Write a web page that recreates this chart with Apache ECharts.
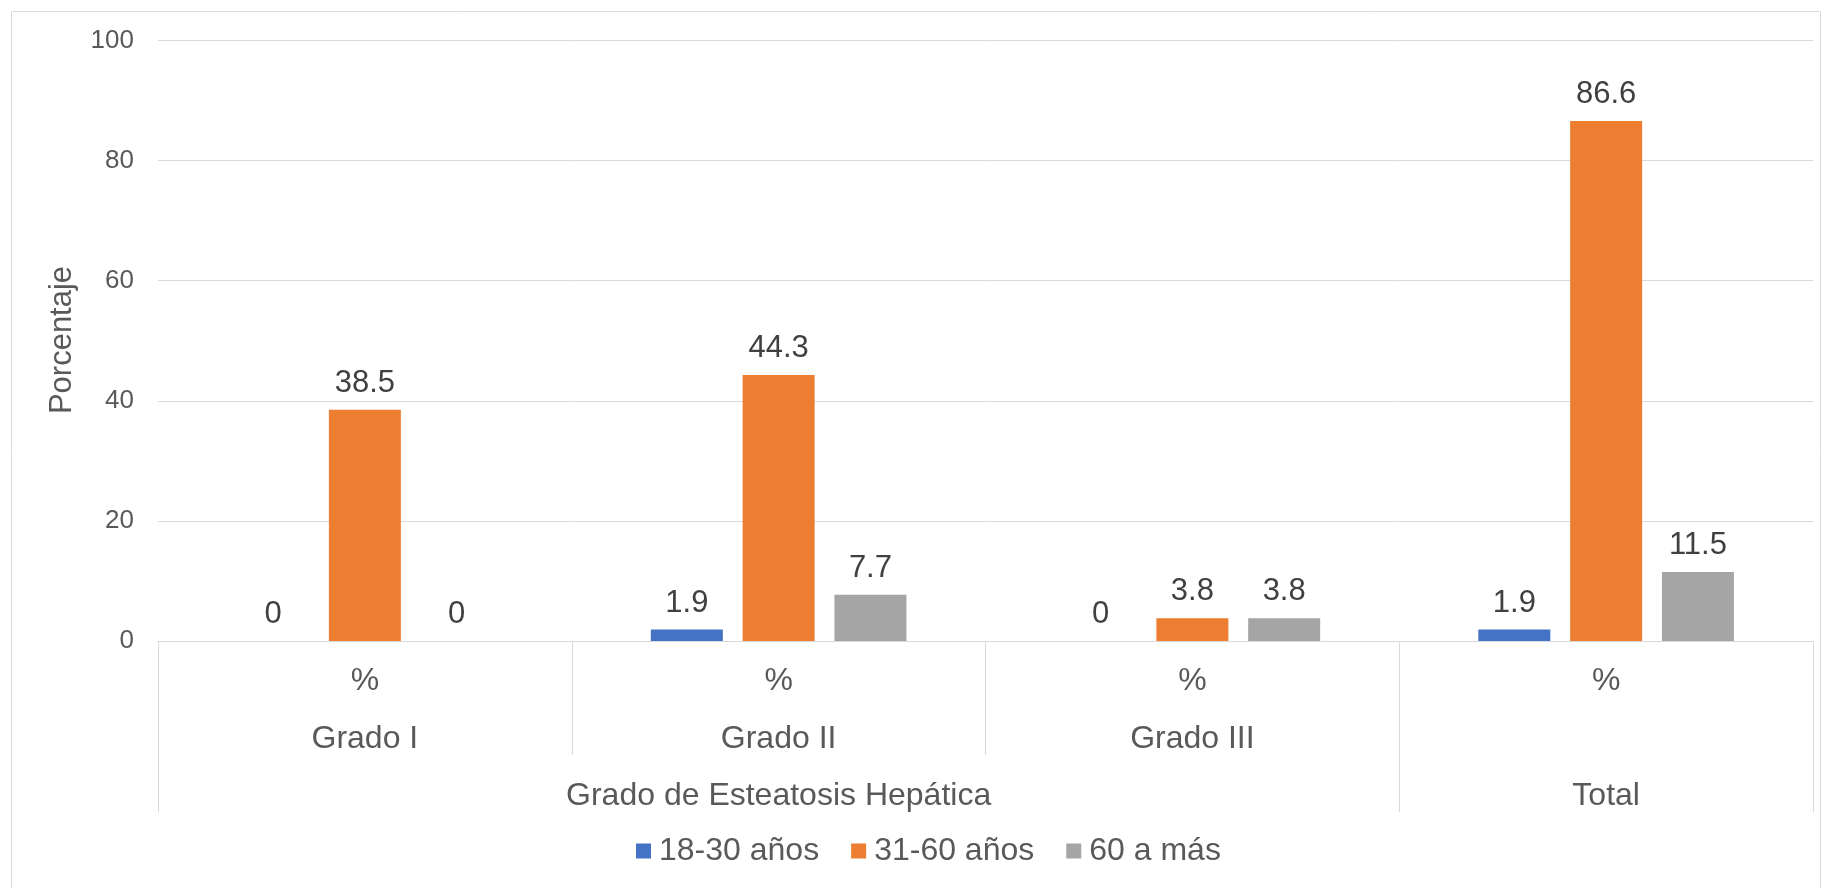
<!DOCTYPE html>
<html>
<head>
<meta charset="utf-8">
<script src="https://cdn.jsdelivr.net/npm/echarts@6/dist/echarts.min.js"></script>
<style>
html,body{margin:0;padding:0;background:#fff;}
#chart{width:1822px;height:888px;}
</style>
</head>
<body>
<div id="chart"></div>
<script>
// ---- data ----
const categories = ['%', '%', '%', '%'];
const level2Labels = ['Grado I', 'Grado II', 'Grado III', ''];
const level3Labels = ['', 'Grado de Esteatosis Hepática', '', 'Total'];
const seriesNames = ['18-30 años', '31-60 años', '60 a más'];
const s18_30 = [0, 1.9, 0, 1.9];
const s31_60 = [38.5, 44.3, 3.8, 86.6];
const s60mas = [0, 7.7, 3.8, 11.5];
const yTicks = [0, 20, 40, 60, 80, 100];
const yTitle = 'Porcentaje';

const FONT = '"Liberation Sans", Arial, sans-serif';
const colors = ['#4472C4', '#ED7D31', '#A5A5A5'];
const grid = '#D9D9D9';

const chart = echarts.init(document.getElementById('chart'), null, {renderer: 'canvas'});

function bar(name, data, color) {
  return {
    name: name,
    type: 'bar',
    data: data,
    barWidth: 72,
    barGap: '27.5%',
    itemStyle: {color: color},
    label: {
      show: true,
      position: 'top',
      distance: 11,
      color: '#404040',
      fontFamily: FONT,
      fontSize: 31,
      lineHeight: 31
    }
  };
}

const catLabel = {color: '#595959', fontFamily: FONT, fontSize: 32, lineHeight: 32, interval: 0};

const option = {
  animation: false,
  backgroundColor: '#fff',
  textStyle: {fontFamily: FONT},
  grid: {left: 158, right: 9, top: 40.5, bottom: 247, containLabel: false},
  legend: {
    data: seriesNames,
    left: 636,
    top: 835,
    padding: 0,
    icon: 'rect',
    itemWidth: 15,
    itemHeight: 15,
    itemGap: 32,
    textStyle: {color: '#595959', fontFamily: FONT, fontSize: 32, lineHeight: 32, padding: [0, 0, 0, 3]}
  },
  xAxis: [
    {
      type: 'category',
      data: categories,
      position: 'bottom',
      axisLine: {show: true, lineStyle: {color: grid, width: 1}},
      axisTick: {show: true, length: 114, interval: 0, lineStyle: {color: grid, width: 1}},
      axisLabel: Object.assign({}, catLabel, {margin: 24.5})
    },
    {
      type: 'category',
      data: level2Labels,
      position: 'bottom',
      axisLine: {show: false},
      axisTick: {show: false},
      axisLabel: Object.assign({}, catLabel, {margin: 82.5})
    },
    {
      type: 'category',
      data: level3Labels,
      position: 'bottom',
      axisLine: {show: false},
      axisTick: {
        show: true,
        length: 171,
        interval: function (idx) { return idx === 0 || idx === 3; },
        lineStyle: {color: grid, width: 1}
      },
      axisLabel: Object.assign({}, catLabel, {margin: 139.5})
    }
  ],
  yAxis: {
    type: 'value',
    min: yTicks[0],
    max: yTicks[yTicks.length - 1],
    interval: yTicks[1] - yTicks[0],
    axisLine: {show: false},
    axisTick: {show: false},
    splitLine: {show: true, lineStyle: {color: grid, width: 1}},
    axisLabel: {color: '#595959', fontFamily: FONT, fontSize: 26, margin: 24}
  },
  graphic: [
    {
      type: 'rect',
      shape: {x: 11.5, y: 11.5, width: 1809, height: 880},
      style: {fill: 'none', stroke: grid, lineWidth: 1},
      silent: true,
      z: -10
    },
    {
      type: 'text',
      x: 62.5,
      y: 340,
      rotation: Math.PI / 2,
      style: {
        text: yTitle,
        fill: '#595959',
        font: '31px ' + FONT,
        textAlign: 'center',
        textVerticalAlign: 'middle'
      }
    }
  ],
  series: [
    bar(seriesNames[0], s18_30, colors[0]),
    bar(seriesNames[1], s31_60, colors[1]),
    bar(seriesNames[2], s60mas, colors[2])
  ]
};
chart.setOption(option);
</script>
</body>
</html>
